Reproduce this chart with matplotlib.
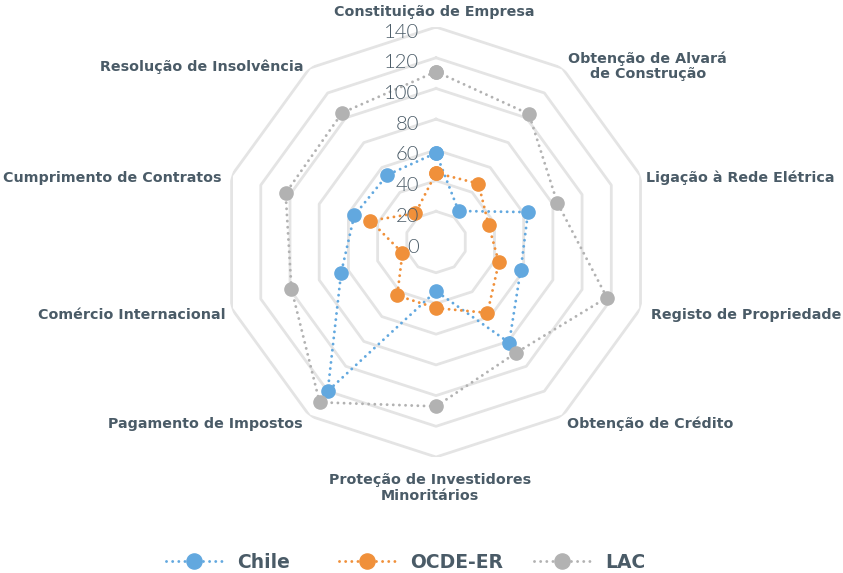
import numpy as np
import matplotlib.pyplot as plt

# Indicadores Doing Business - Chile vs OCDE-ER vs LAC
categorias = ['Constituição de Empresa', 'Obtenção de Alvará\nde Construção',
              'Ligação à Rede Elétrica', 'Registo de Propriedade',
              'Obtenção de Crédito', 'Proteção de Investidores\nMinoritários',
              'Pagamento de Impostos', 'Comércio Internacional',
              'Cumprimento de Contratos', 'Resolução de Insolvência']
chile = [58, 25, 63, 58, 81, 32, 120, 65, 56, 54]
ocde_er = [45, 47, 36, 43, 57, 43, 43, 23, 45, 23]
lac = [111, 103, 83, 117, 89, 107, 129, 99, 103, 104]
niveis = [0, 20, 40, 60, 80, 100, 120, 140]

cor_texto = '#4A5B67'
cor_grelha = '#E4E4E4'

n = len(categorias)
ang = np.arange(n) * 2 * np.pi / n
ang_fechado = np.append(ang, ang[0])

fig = plt.figure(figsize=(8.43, 5.73), dpi=100)
ax = fig.add_axes([0.2622, 0.2024, 0.5101, 0.7504], projection='polar')
ax.set_theta_zero_location('N')
ax.set_theta_direction(-1)
ax.set_ylim(0, 140)
ax.grid(False)
ax.spines['polar'].set_visible(False)
ax.set_xticks([])
ax.set_yticks([])
ax.patch.set_alpha(0)

# aneis do decagono
for v in niveis[1:]:
    ax.plot(ang_fechado, [v] * (n + 1), color=cor_grelha, lw=2, zorder=1)

# valores do eixo
for v in niveis:
    ax.annotate(str(v), xy=(0, v), xytext=(-17, -5), textcoords='offset pixels',
                ha='right', va='center', fontsize=14.5, color=cor_texto,
                family='Lato', fontweight=300, annotation_clip=False, zorder=5)

series = [('Chile', chile, '#62A8DF'),
          ('OCDE-ER', ocde_er, '#F0903A'),
          ('LAC', lac, '#B2B2B2')]
linhas = []
for nome, vals, cor in series:
    vals_f = np.append(vals, vals[0])
    ln, = ax.plot(ang_fechado, vals_f, color=cor, lw=2.1, linestyle=(0, (0.01, 2.1)),
                  dash_capstyle='round', marker='o', ms=9.5, mec=cor, mfc=cor,
                  label=nome, zorder=3, clip_on=False)
    linhas.append(ln)

# rotulos das categorias
desloc = [(-2, 15, 'center'), (6, 2, 'left'), (5, -2, 'left'), (10, -7, 'left'),
          (5, -8, 'left'), (-6, -31, 'center'), (-7, -8, 'right'), (-6, -7, 'right'),
          (-10, -2, 'right'), (-6, 1, 'right')]
for a, txt, (dx, dy, ha) in zip(ang, categorias, desloc):
    ax.annotate(txt, xy=(a, 140), xytext=(dx, dy), textcoords='offset pixels',
                ha=ha, va='center', multialignment='center', fontsize=10.3,
                fontweight='bold', color=cor_texto, annotation_clip=False,
                linespacing=1.1)

# legenda: uma entrada de cada vez
pos_leg = [0.197, 0.4025, 0.6338]
for ln, x in zip(linhas, pos_leg):
    leg = fig.legend(handles=[ln], loc='center left', bbox_to_anchor=(x, 0.019),
                     frameon=False, handlelength=3.0, handletextpad=0.8,
                     borderpad=0, borderaxespad=0, markerscale=1.15,
                     prop={'weight': 'bold', 'size': 13.5})
    for t in leg.get_texts():
        t.set_color(cor_texto)

fig.savefig('out.png', dpi=100)
